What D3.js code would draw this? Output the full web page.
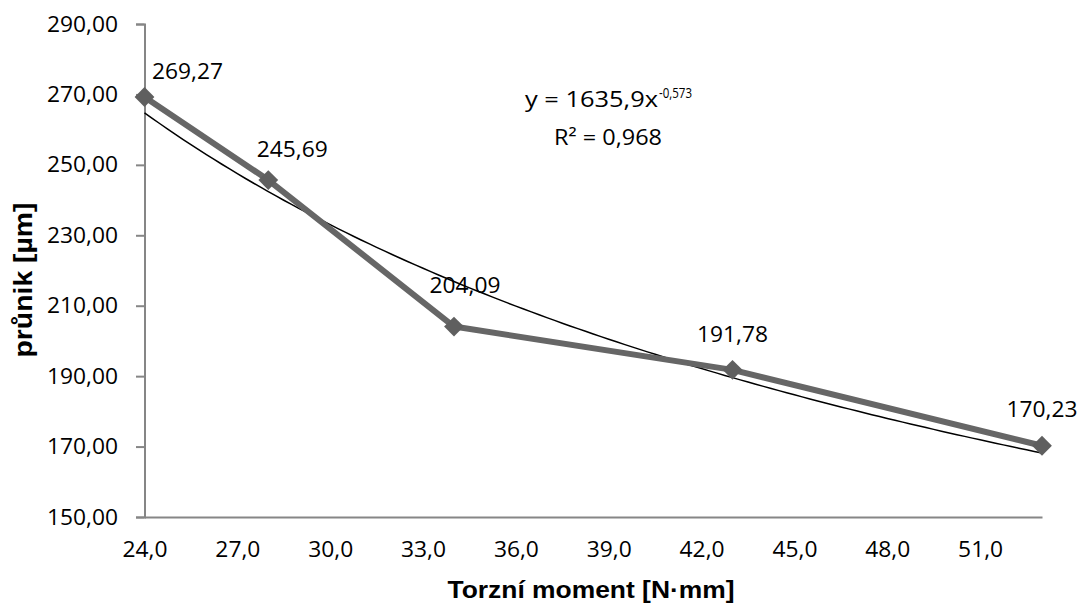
<!DOCTYPE html>
<html><head><meta charset="utf-8">
<script src="https://cdn.jsdelivr.net/npm/d3@7"></script>
<style>html,body{margin:0;padding:0;background:#fff;}svg{display:block;}</style>
</head><body>
<svg id="chart" width="1079" height="604"></svg>
<script>
// ---- data ----
const torque = [24, 28, 34, 43, 53];
const pruniky = [269.27, 245.69, 204.09, 191.78, 170.23];
const valueLabels = ["269,27", "245,69", "204,09", "191,78", "170,23"];
const xTicks = [24, 27, 30, 33, 36, 39, 42, 45, 48, 51];
const yTicks = [150, 170, 190, 210, 230, 250, 270, 290];
const trendA = 1635.9, trendB = -0.573;
const trendEq = "y = 1635,9x", trendExp = "-0,573", trendR2 = "R² = 0,968";
const xTitle = "Torzní moment [N·mm]", yTitle = "průnik [µm]";

// ---- layout ----
const labelOffsets = [[43, -18], [24, -23], [11, -34], [0, -28], [0, -29]];
const svg = d3.select("#chart");
const x = d3.scaleLinear().domain([24, 53]).range([144.5, 1042]);
const y = d3.scaleLinear().domain([150, 290]).range([517, 24]);
const fmt1 = d => d3.format(".1f")(d).replace(".", ",");
const fmt2 = d => d3.format(".2f")(d).replace(".", ",");
const axisCol = "#868686";
const numFont = "'Open Sans', Lato, sans-serif";
const numSize = 22;
const titleFont = "'Liberation Sans', Arimo, Arial, sans-serif";

// y axis
const yAxis = svg.append("g").attr("transform", "translate(144.5,0)")
  .call(d3.axisLeft(y).tickValues(yTicks).tickSize(8.5).tickPadding(18).tickFormat(fmt2));
yAxis.select(".domain").attr("stroke", axisCol).attr("stroke-width", 2);
yAxis.selectAll(".tick line").attr("stroke", axisCol).attr("stroke-width", 2);
yAxis.selectAll(".tick text").attr("font-family", numFont).attr("font-size", numSize).attr("fill", "#000")
  .attr("textLength", 71).attr("lengthAdjust", "spacingAndGlyphs");

// x axis
const xAxis = svg.append("g").attr("transform", "translate(0,517)")
  .call(d3.axisBottom(x).tickValues(xTicks).tickSize(0).tickPadding(24).tickFormat(fmt1));
xAxis.select(".domain").attr("stroke", axisCol).attr("stroke-width", 2);
xAxis.selectAll(".tick text").attr("font-family", numFont).attr("font-size", numSize).attr("fill", "#000")
  .attr("textLength", 45).attr("lengthAdjust", "spacingAndGlyphs");

// trend line (power fit)
const trendXs = d3.range(24, 53.001, 0.25);
svg.append("path")
  .attr("d", d3.line().x(d => x(d)).y(d => y(trendA * Math.pow(d, trendB)))(trendXs))
  .attr("fill", "none").attr("stroke", "#000").attr("stroke-width", 1.5);

// series line
const pts = torque.map((t, i) => [t, pruniky[i]]);
svg.append("path")
  .attr("d", d3.line().x(d => x(d[0])).y(d => y(d[1]))(pts))
  .attr("fill", "none").attr("stroke", "#666666").attr("stroke-width", 6).attr("stroke-linejoin", "round");

// diamond markers
svg.selectAll(".mk").data(pts).enter().append("rect")
  .attr("x", -7).attr("y", -7).attr("width", 14).attr("height", 14)
  .attr("fill", "#5f5f5f")
  .attr("transform", d => `translate(${x(d[0])},${y(d[1])}) rotate(45)`);

// data labels
svg.selectAll(".lbl").data(pts).enter().append("text")
  .attr("x", (d, i) => x(d[0]) + labelOffsets[i][0])
  .attr("y", (d, i) => y(d[1]) + labelOffsets[i][1])
  .attr("text-anchor", "middle").attr("font-family", numFont).attr("font-size", numSize).attr("fill", "#000")
  .attr("textLength", 71).attr("lengthAdjust", "spacingAndGlyphs")
  .text((d, i) => valueLabels[i]);

// trend equation
svg.append("text").attr("x", 525).attr("y", 107).attr("font-family", numFont).attr("font-size", numSize)
  .attr("textLength", 133).attr("lengthAdjust", "spacingAndGlyphs").text(trendEq);
svg.append("text").attr("x", 659).attr("y", 98).attr("font-family", numFont).attr("font-size", 14)
  .attr("textLength", 33).attr("lengthAdjust", "spacingAndGlyphs").text(trendExp);
svg.append("text").attr("x", 554).attr("y", 145).attr("font-family", numFont).attr("font-size", numSize)
  .attr("textLength", 108).attr("lengthAdjust", "spacingAndGlyphs").text(trendR2);

// axis titles
svg.append("text").attr("x", 591).attr("y", 598).attr("text-anchor", "middle")
  .attr("font-family", titleFont).attr("font-weight", "bold").attr("font-size", 24)
  .attr("textLength", 287).attr("lengthAdjust", "spacingAndGlyphs").text(xTitle);
svg.append("text").attr("transform", "translate(32,280) rotate(-90)").attr("text-anchor", "middle")
  .attr("font-family", titleFont).attr("font-weight", "bold").attr("font-size", 25)
  .attr("textLength", 155).attr("lengthAdjust", "spacingAndGlyphs").text(yTitle);
</script>
</body></html>
